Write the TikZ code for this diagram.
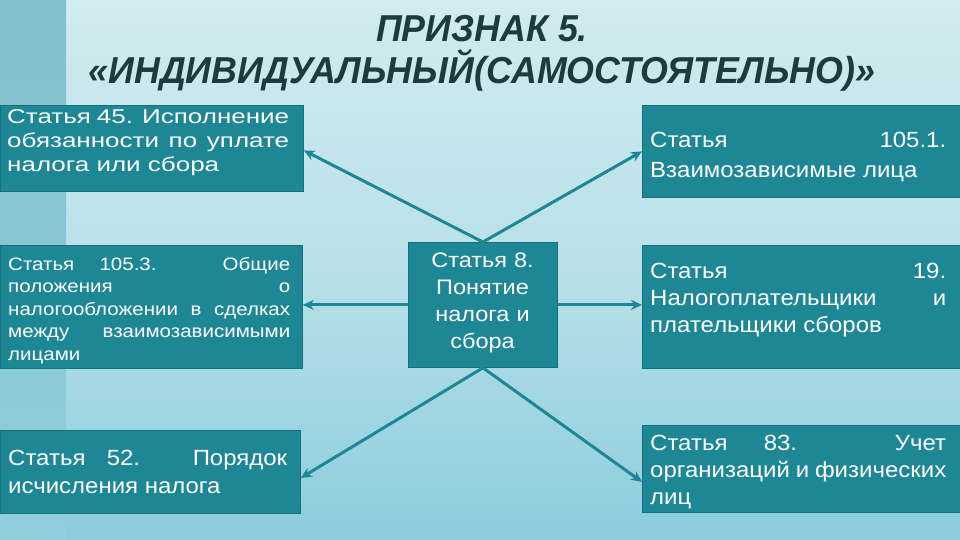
\documentclass[tikz,border=0pt]{standalone}
\usepackage{fontspec}
\setmainfont{Liberation Sans}
\newfontfamily\fA{Liberation Sans}[FakeStretch=1.3]
\newfontfamily\fB{Liberation Sans}[FakeStretch=1.14]
\newfontfamily\fC{Liberation Sans}[FakeStretch=1.12]
\newfontfamily\fD{Liberation Sans}[FakeStretch=1.09]
\newfontfamily\titlefont{Liberation Sans}[FakeStretch=0.955]
\usetikzlibrary{arrows.meta,calc}
\definecolor{boxc}{HTML}{1E8796}
\definecolor{boxd}{HTML}{16707C}
\definecolor{bgtop}{HTML}{D2EBEF}
\definecolor{bgmid}{HTML}{B8E0E8}
\definecolor{bgbot}{HTML}{8CCCDD}
\definecolor{striptop}{HTML}{80C0CB}
\definecolor{stripbot}{HTML}{92CEDD}
\definecolor{titlec}{HTML}{1F3A3F}
\hyphenpenalty=10000
\exhyphenpenalty=10000
\tolerance=9999
\tikzset{
  box/.style={draw=boxd, line width=0.8pt, fill=boxc, rectangle, inner sep=0pt, anchor=north west},
  txt/.style={text=white, inner sep=0pt, anchor=north west, align=justify},
  arr/.style={draw=boxc, line width=3pt, -{Stealth[length=11pt,width=10pt]}},
}
\begin{document}
\begin{tikzpicture}[x=1pt,y=-1pt]
\useasboundingbox (0,0) rectangle (960,540);
\shade[top color=bgtop, bottom color=bgbot, middle color=bgmid] (0,0) rectangle (960,540);
\shade[top color=striptop, bottom color=stripbot] (0,0) rectangle (66,540);

% title
\node[text=titlec, anchor=north, align=center, inner sep=0pt, font=\titlefont\bfseries\itshape\fontsize{37.5}{42}\selectfont] (title) at (482,15)
  {ПРИЗНАК 5.\\«ИНДИВИДУАЛЬНЫЙ(САМОСТОЯТЕЛЬНО)»};

% boxes
\node[box, minimum width=303pt, minimum height=86pt] (b1) at (0,105) {};
\node[txt, text width=282pt, font=\fA\fontsize{20}{24}\selectfont] (t1) at (7,109)
  {Статья 45. Исполнение\linebreak обязанности по уплате\linebreak налога или сбора};

\node[box, minimum width=302pt, minimum height=123pt] (b2) at (0,245) {};
\node[txt, text width=282pt, font=\fB\fontsize{18}{22.5}\selectfont] (t2) at (8,257)
  {Статья 105.3. Общие\linebreak положения о\linebreak налогообложении в сделках\linebreak между взаимозависимыми\linebreak лицами};

\node[box, minimum width=300pt, minimum height=83pt] (b3) at (0,430) {};
\node[txt, text width=279pt, font=\fD\fontsize{22}{28}\selectfont] (t3) at (8,450)
  {Статья 52. Порядок\linebreak исчисления налога};

\node[box, minimum width=149pt, minimum height=125pt] (c) at (408,242) {};
\node[txt, anchor=north, align=center, text width=145pt, font=\fC\fontsize{21}{27}\selectfont] (tc) at (482.5,253)
  {Статья 8.\\Понятие\\налога и\\сбора};

\node[box, minimum width=318pt, minimum height=92pt] (r1) at (642,105) {};
\node[txt, text width=296pt, font=\fD\fontsize{22}{30}\selectfont] (s1) at (650,132)
  {Статья 105.1.\linebreak Взаимозависимые лица};

\node[box, minimum width=318pt, minimum height=123pt] (r2) at (642,245) {};
\node[txt, text width=296pt, font=\fD\fontsize{22}{27}\selectfont] (s2) at (650,263)
  {Статья 19.\linebreak Налогоплательщики и\linebreak плательщики сборов};

\node[box, minimum width=318pt, minimum height=87pt] (r3) at (642,425) {};
\node[txt, text width=296pt, font=\fD\fontsize{22}{27}\selectfont] (s3) at (650,435)
  {Статья 83. Учет\linebreak организаций и физических\linebreak лиц};

% connectors
\draw[arr] (c.north) -- ($(b1.east)+(0,2)$);
\draw[arr] (c.north) -- (r1.west);
\draw[arr] (c.west) -- (c.west -| b2.east);
\draw[arr] (c.east) -- (c.east -| r2.west);
\draw[arr] (c.south) -- ($(b3.east)+(0,6)$);
\draw[arr] (c.south) -- ($(r3.west)+(0,13)$);
\end{tikzpicture}
\end{document}
